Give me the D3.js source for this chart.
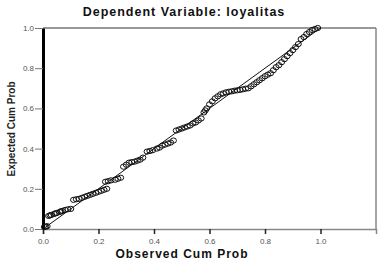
<!DOCTYPE html>
<html>
<head>
<meta charset="utf-8">
<script src="https://cdn.jsdelivr.net/npm/d3@7"></script>
<style>
  html, body { margin: 0; padding: 0; background: #fff; }
  svg { display: block; font-family: 'Liberation Sans', Arial, sans-serif; }
</style>
</head>
<body>
<div id="chart"></div>
<script>
const TITLE = 'Dependent Variable: loyalitas';
const X_LABEL = 'Observed Cum Prob';
const Y_LABEL = 'Expected Cum Prob';
const TICKS = [0, 0.2, 0.4, 0.6, 0.8, 1.0];

// observed / expected cumulative probabilities
const observed = [
  0.005, 0.01, 0.015,
  0.02, 0.025, 0.03, 0.04, 0.045, 0.05, 0.06, 0.065, 0.07, 0.08, 0.09, 0.10,
  0.11, 0.12, 0.13, 0.14, 0.15, 0.16, 0.17, 0.18, 0.19, 0.20, 0.21, 0.22, 0.23,
  0.225, 0.235, 0.245, 0.26, 0.27, 0.28,
  0.29, 0.30, 0.31, 0.32, 0.33, 0.34, 0.35, 0.36,
  0.375, 0.385, 0.395, 0.41, 0.42, 0.43, 0.44, 0.45, 0.46, 0.47,
  0.48, 0.49, 0.50, 0.51, 0.52, 0.53, 0.54, 0.55, 0.56, 0.57,
  0.58, 0.585, 0.59, 0.60, 0.61, 0.62, 0.63, 0.64, 0.65, 0.66, 0.67, 0.68, 0.69,
  0.70, 0.71, 0.72, 0.73, 0.74, 0.75, 0.76, 0.77, 0.78, 0.79, 0.80, 0.81, 0.82,
  0.83, 0.84, 0.85, 0.86, 0.87, 0.88, 0.89, 0.90, 0.91, 0.92,
  0.93, 0.94, 0.95, 0.96, 0.97, 0.98, 0.99
];
const expected = [
  0.01, 0.012, 0.014,
  0.065, 0.068, 0.07, 0.075, 0.078, 0.08, 0.085, 0.088, 0.09, 0.095, 0.098, 0.10,
  0.145, 0.148, 0.15, 0.155, 0.16, 0.165, 0.17, 0.175, 0.18, 0.185, 0.19, 0.195, 0.20,
  0.235, 0.238, 0.242, 0.245, 0.25, 0.255,
  0.31, 0.32, 0.33, 0.333, 0.335, 0.34, 0.345, 0.355,
  0.385, 0.388, 0.392, 0.40, 0.405, 0.415, 0.42, 0.425, 0.43, 0.44,
  0.49, 0.495, 0.50, 0.505, 0.51, 0.515, 0.525, 0.53, 0.54, 0.55,
  0.58, 0.59, 0.60, 0.62, 0.635, 0.65, 0.66, 0.67, 0.675, 0.68, 0.683, 0.685, 0.688,
  0.69, 0.692, 0.695, 0.698, 0.70, 0.71, 0.72, 0.73, 0.74, 0.75, 0.76, 0.768, 0.775,
  0.79, 0.805, 0.815, 0.83, 0.845, 0.86, 0.875, 0.89, 0.905, 0.92,
  0.945, 0.955, 0.97, 0.98, 0.99, 0.995, 1.0
];
const refLine = [[0, 0], [1, 1]];

const width = 379, height = 264;
const svg = d3.select('#chart').append('svg')
  .attr('width', width).attr('height', height);

const x = d3.scaleLinear().domain([0, 1.2]).range([43, 376]);
const y = d3.scaleLinear().domain([0, 1]).range([229, 28]);

// frame: top and right borders
svg.append('line')
  .attr('x1', x(0)).attr('x2', x(1.2)).attr('y1', y(1)).attr('y2', y(1))
  .attr('stroke', '#333').attr('stroke-width', 1);
svg.append('line')
  .attr('x1', x(1.2)).attr('x2', x(1.2)).attr('y1', y(1)).attr('y2', y(0))
  .attr('stroke', '#888').attr('stroke-width', 1.5);

// x axis
const xAxis = svg.append('g')
  .attr('transform', `translate(0,${y(0)})`)
  .call(d3.axisBottom(x).tickValues(TICKS).tickFormat(d3.format('.1f')).tickSize(5));
xAxis.select('.domain').attr('stroke', '#888').attr('stroke-width', 1.5);
xAxis.selectAll('.tick line').attr('stroke', '#222').attr('stroke-width', 1.5);
xAxis.selectAll('text').attr('font-size', 8).attr('fill', '#555').attr('dy', '0.9em');

// y axis
const yAxis = svg.append('g')
  .attr('transform', `translate(${x(0)},0)`)
  .call(d3.axisLeft(y).tickValues(TICKS).tickFormat(d3.format('.1f')).tickSize(8).tickSizeOuter(0));
yAxis.select('.domain').attr('stroke', '#000').attr('stroke-width', 3);
yAxis.selectAll('.tick line').attr('stroke', '#777').attr('stroke-width', 1);
yAxis.selectAll('text').attr('font-size', 8).attr('fill', '#555').attr('x', -9);

// reference diagonal
svg.append('path')
  .datum(refLine)
  .attr('d', d3.line().x(d => x(d[0])).y(d => y(d[1])))
  .attr('fill', 'none').attr('stroke', '#111').attr('stroke-width', 1);

// points
svg.append('g').selectAll('ellipse')
  .data(observed.map((o, i) => [o, expected[i]]))
  .enter().append('ellipse')
  .attr('cx', d => x(d[0])).attr('cy', d => y(d[1]))
  .attr('rx', 3).attr('ry', 2.6)
  .attr('fill', 'none').attr('stroke', '#111').attr('stroke-width', 1);

// titles
svg.append('text')
  .attr('x', 184).attr('y', 16)
  .attr('text-anchor', 'middle')
  .style('font-size', '12.5px').style('font-weight', 'bold').style('fill', '#111')
  .style('letter-spacing', '1px')
  .text(TITLE);

svg.append('text')
  .attr('x', 182).attr('y', 258)
  .attr('text-anchor', 'middle')
  .style('font-size', '12px').style('font-weight', 'bold').style('fill', '#111')
  .style('letter-spacing', '1px')
  .text(X_LABEL);

svg.append('text')
  .attr('transform', 'translate(15,129) rotate(-90)')
  .attr('text-anchor', 'middle')
  .style('font-size', '10px').style('font-weight', 'bold').style('fill', '#222')
  .text(Y_LABEL);
</script>
</body>
</html>
